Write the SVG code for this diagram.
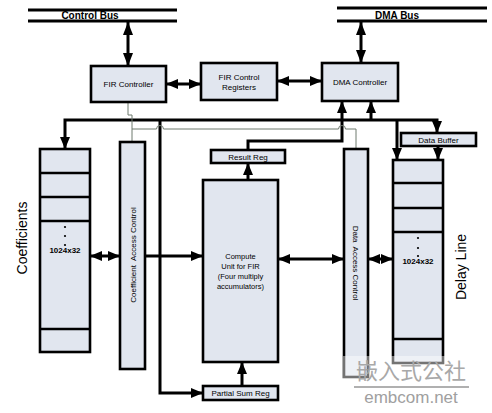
<svg xmlns="http://www.w3.org/2000/svg" width="492" height="413" viewBox="0 0 492 413">
<defs>
<marker id="ah" viewBox="0 0 12 10" refX="12" refY="5" markerWidth="12" markerHeight="10" markerUnits="userSpaceOnUse" orient="auto-start-reverse">
<path d="M0,0 L12,5 L0,10 z" fill="#000"/>
</marker>
<marker id="ahBig" viewBox="0 0 13 10" refX="13" refY="5" markerWidth="13" markerHeight="10" markerUnits="userSpaceOnUse" orient="auto-start-reverse">
<path d="M0,0 L13,5 L0,10 z" fill="#000"/>
</marker>
</defs>
<style>
.box{fill:#e1e6ef;stroke:#000;stroke-width:2.6}
.div{stroke:#000;stroke-width:2.6}
.bus{stroke:#000;stroke-width:3}
.w{fill:none;stroke:#000;stroke-width:3}
.thin{fill:none;stroke:#6f7a6f;stroke-width:1}
.t{font-family:"Liberation Sans",Arial,sans-serif;font-size:8px;fill:#000;text-anchor:middle}
.tb{font-family:"Liberation Sans",Arial,sans-serif;font-size:10px;font-weight:bold;fill:#000;text-anchor:middle}
.tm{font-family:"Liberation Sans",Arial,sans-serif;font-size:8px;font-weight:bold;fill:#000;text-anchor:middle}
.big{font-family:"Liberation Sans",Arial,sans-serif;font-size:14px;fill:#000;text-anchor:middle}
</style>
<rect width="492" height="413" fill="#fff"/>

<g id="control-bus">
<line class="bus" x1="28" y1="10" x2="177" y2="10"/>
<line class="bus" x1="28" y1="21" x2="177" y2="21"/>
<text class="tb" x="90" y="19">Control Bus</text>
</g>
<g id="dma-bus">
<line class="bus" x1="337" y1="8" x2="487" y2="8"/>
<line class="bus" x1="337" y1="21" x2="487" y2="21"/>
<text class="tb" x="397" y="19">DMA Bus</text>
</g>

<g id="connectors">
<path class="w" d="M128,22 L128,66" marker-start="url(#ahBig)" marker-end="url(#ahBig)"/>
<path class="w" d="M361,22 L361,63" marker-start="url(#ahBig)" marker-end="url(#ahBig)"/>
<path class="w" d="M166,84 L201,84" marker-start="url(#ah)" marker-end="url(#ah)"/>
<path class="w" d="M277,81 L322,81" marker-start="url(#ah)" marker-end="url(#ah)"/>
<path class="w" d="M65,149 L65,120 L437,120 L437,133" marker-start="url(#ah)" marker-end="url(#ah)"/>
<path class="w" d="M397,120 L397,160" marker-end="url(#ah)"/>
<path class="w" d="M371,120 L371,101" marker-end="url(#ah)"/>
<path class="w" d="M248,150 L248,141 L342,141 L342,101" marker-end="url(#ah)"/>
<path class="w" d="M160,120 L160,393 L203,393" marker-end="url(#ah)"/>
<path class="w" d="M145,256 L203,256" marker-end="url(#ah)"/>
<path class="w" d="M90,256 L120,256" marker-start="url(#ah)" marker-end="url(#ah)"/>
<path class="w" d="M248,180 L248,163" marker-end="url(#ah)"/>
<path class="w" d="M242,386 L242,362" marker-end="url(#ah)"/>
<path class="w" d="M278,259 L344,259" marker-start="url(#ah)" marker-end="url(#ah)"/>
<path class="w" d="M368,259 L393,259" marker-start="url(#ah)" marker-end="url(#ah)"/>
<path class="w" d="M438,146 L438,160" marker-end="url(#ah)"/>
<path class="thin" d="M128,102 L128,115 L132,115 L132,142"/>
<path class="thin" d="M132,129 L156.5,129 A3.5,3.5 0 0 1 163.5,129 L338.5,129 A3.5,3.5 0 0 1 345.5,129 L356,129 L356,149"/>
</g>

<g id="fir-controller">
<rect class="box" x="91" y="66" width="75" height="36"/>
<text class="t" x="128.5" y="87">FIR Controller</text>
</g>
<g id="fir-control-registers">
<rect class="box" x="201" y="63" width="76" height="37"/>
<text class="t" x="239" y="80">FIR Control</text>
<text class="t" x="239" y="90">Registers</text>
</g>
<g id="dma-controller">
<rect class="box" x="322" y="63" width="76" height="38"/>
<text class="t" x="360" y="85">DMA Controller</text>
</g>

<g id="coefficients">
<rect class="box" x="40" y="149" width="50" height="203"/>
<line class="div" x1="40" y1="173" x2="90" y2="173"/>
<line class="div" x1="40" y1="197" x2="90" y2="197"/>
<line class="div" x1="40" y1="221" x2="90" y2="221"/>
<line class="div" x1="40" y1="329" x2="90" y2="329"/>
<circle cx="65" cy="227" r="1.1"/>
<circle cx="65" cy="236" r="1.1"/>
<circle cx="65" cy="245" r="1.1"/>
<text class="tm" x="65" y="253">1024x32</text>
<text class="big" transform="translate(27,238) rotate(-90)">Coefficients</text>
</g>

<g id="coefficient-access-control">
<rect class="box" x="120" y="142" width="25" height="227"/>
<text class="t" xml:space="preserve" transform="translate(136,255) rotate(-90)">Coefficient  Access Control</text>
</g>

<g id="result-reg">
<rect class="box" x="211" y="150" width="74" height="13"/>
<text class="t" x="248" y="160">Result Reg</text>
</g>

<g id="compute-unit">
<rect class="box" x="203" y="180" width="75" height="182"/>
<text class="t" x="240.5" y="259" style="font-size:7.5px">Compute</text>
<text class="t" x="240.5" y="269" style="font-size:7.5px">Unit for FIR</text>
<text class="t" x="240.5" y="279" style="font-size:7.5px">(Four multiply</text>
<text class="t" x="240.5" y="289" style="font-size:7.5px">accumulators)</text>
</g>

<g id="partial-sum-reg">
<rect class="box" x="203" y="386" width="75" height="14"/>
<text class="t" x="240.5" y="396">Partial Sum Reg</text>
</g>

<g id="data-access-control">
<rect class="box" x="344" y="149" width="24" height="228"/>
<text class="t" xml:space="preserve" transform="translate(353,263) rotate(90)">Data  Access Control</text>
</g>

<g id="data-buffer">
<rect class="box" x="401" y="133" width="75" height="13"/>
<text class="t" x="438.5" y="143">Data Buffer</text>
</g>

<g id="delay-line">
<rect class="box" x="393" y="160" width="50" height="203"/>
<line class="div" x1="393" y1="183" x2="443" y2="183"/>
<line class="div" x1="393" y1="208" x2="443" y2="208"/>
<line class="div" x1="393" y1="232" x2="443" y2="232"/>
<line class="div" x1="393" y1="339" x2="443" y2="339"/>
<circle cx="418" cy="238" r="1.1"/>
<circle cx="418" cy="248" r="1.1"/>
<circle cx="418" cy="256" r="1.1"/>
<text class="tm" x="418" y="264">1024x32</text>
<text class="big" transform="translate(466,267) rotate(-90)">Delay Line</text>
</g>

<g id="watermark">
<rect x="343" y="356" width="149" height="57" fill="#fff" fill-opacity="0.45"/>
<text x="411" y="379" style="font-family:'Noto Sans CJK SC',sans-serif;font-size:22px;fill:#a8a8a8;text-anchor:middle">嵌入式公社</text>
<line x1="354" y1="387" x2="469" y2="387" stroke="#b0b0b0" stroke-width="2"/>
<text x="411" y="403" style="font-family:'Liberation Sans',Arial,sans-serif;font-size:17px;fill:#a0a0a0;text-anchor:middle">embcom.net</text>
</g>
</svg>
